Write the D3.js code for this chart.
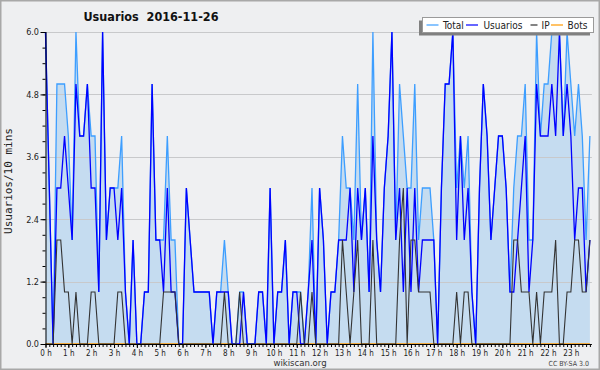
<!DOCTYPE html>
<html><head><meta charset="utf-8">
<script src="https://cdn.jsdelivr.net/npm/d3@7"></script>
<style>body{margin:0;background:#fff}svg{display:block}</style>
</head><body><svg id="c" width="600" height="370"></svg>
<script>
const titleText = "Usuarios  2016-11-26";
const yLabel = "Usuarios/10 mins";
const hourLabels = ["0 h","1 h","2 h","3 h","4 h","5 h","6 h","7 h","8 h","9 h","10 h","11 h","12 h","13 h","14 h","15 h","16 h","17 h","18 h","19 h","20 h","21 h","22 h","23 h"];
const yTicks = [0, 1.2, 2.4, 3.6, 4.8, 6.0];
const seriesNames = ["Total","Usuarios","IP","Bots"];
const seriesColors = ["#3d9eff","#0000ff","#333333","#ff9900"];

const total = [
6,3,0,5,5,5,4,2,6,4, 4,5,4,4,1,6,2,3,3,3, 4,1,0,2,0,0,1,1,5,2,
2,2,4,2,2,0,0,3,2,1, 1,1,1,1,0,1,1,2,1,0, 0,1,1,0,0,0,1,1,0,3,
0,1,1,2,0,1,1,1,0,1, 3,0,3,2,0,1,1,2,4,3, 3,2,5,2,3,1,6,2,1,3,
4,6,2,5,4,3,3,5,2,3, 3,3,2,0,3,5,5,6,3,4, 3,4,1,0,3,5,4,2,3,4,
4,3,1,3,4,4,5,2,2,6, 4,5,5,6,6,6,4,6,5,4, 5,4,2,4];
const usuarios = [
6,3,0,3,3,4,3,2,5,4, 4,5,3,3,1,6,2,3,3,2, 3,1,0,2,0,0,1,1,5,2,
2,1,3,1,1,0,0,3,2,1, 1,1,1,1,0,1,1,1,1,0, 0,0,1,0,0,0,1,1,0,3,
0,1,1,2,0,1,1,0,0,1, 2,0,3,2,0,1,1,2,2,2, 3,1,3,2,3,1,4,2,1,3,
4,6,2,3,1,3,1,3,1,2, 2,2,2,0,3,5,5,6,2,4, 2,3,1,0,3,5,4,2,3,4,
4,3,1,1,2,3,4,1,2,5, 4,4,4,5,4,6,4,5,4,2, 3,3,1,2];
const ip = [
0,0,0,2,2,1,1,0,1,0, 0,0,1,1,0,0,0,0,0,1, 1,0,0,0,0,0,0,0,0,0,
0,1,1,1,1,0,0,0,0,0, 0,0,0,0,0,0,0,1,0,0, 0,1,0,0,0,0,0,0,0,0,
0,0,0,0,0,0,0,1,0,0, 1,0,0,0,0,0,0,0,2,1, 0,1,2,0,0,0,2,0,0,0,
0,0,0,2,3,0,2,2,1,1, 1,1,0,0,0,0,0,0,1,0, 1,1,0,0,0,0,0,0,0,0,
0,0,0,2,2,1,1,1,0,1, 0,1,1,1,2,0,0,1,1,2, 2,1,1,2];
const bots = [
0,0,0,0,0,0,0,0,0,0, 0,0,0,0,0,0,0,0,0,0, 0,0,0,0,0,0,0,0,0,0,
0,0,0,0,0,0,0,0,0,0, 0,0,0,0,0,0,0,0,0,0, 0,0,0,0,0,0,0,0,0,0,
0,0,0,0,0,0,0,0,0,0, 0,0,0,0,0,0,0,0,0,0, 0,0,0,0,0,0,0,0,0,0,
0,0,0,0,0,0,0,0,0,0, 0,0,0,0,0,0,0,0,0,0, 0,0,0,0,0,0,0,0,0,0,
0,0,0,0,0,0,0,0,0,0, 0,0,0,0,0,0,0,0,0,0, 0,0,0,0];

const FONT = "'DejaVu Sans Condensed','DejaVu Sans',sans-serif";
const svg = d3.select("#c");
const L = 45.5, R = 589.9, T = 32, B = 344;
const x = d3.scaleLinear().domain([0, total.length - 1]).range([L, R]);
const y = d3.scaleLinear().domain([0, 6]).range([B, T]);

svg.append("rect").attr("x",0).attr("y",0).attr("width",600).attr("height",370).attr("fill","#eeeff1");
svg.append("rect").attr("x",0.75).attr("y",0.75).attr("width",598.5).attr("height",368.5)
  .attr("fill","none").attr("stroke","#a8a8a8").attr("stroke-width",1.5);
svg.append("rect").attr("x",L).attr("y",T).attr("width",R+2-L).attr("height",B-T).attr("fill","#eff0f2");

svg.append("path").datum(total)
  .attr("d", d3.area().x((d,i)=>x(i)).y0(y(0)).y1(d=>y(d)))
  .attr("fill","#c5dcf0");

svg.append("g").selectAll("line").data(yTicks.filter(v=>v>0)).join("line")
  .attr("x1",L).attr("x2",R+2).attr("y1",d=>Math.round(y(d))+0.5).attr("y2",d=>Math.round(y(d))+0.5)
  .attr("stroke","#c8c9cb").attr("stroke-width",1);

const line = d3.line().x((d,i)=>x(i)).y(d=>y(d));
const series = [total, usuarios, ip, bots];
[bots, total, usuarios, ip].forEach(s => {
  const k = series.indexOf(s);
  svg.append("path").datum(s).attr("d", line).attr("fill","none")
    .attr("stroke", seriesColors[k]).attr("stroke-width", k===2 ? 1.1 : 1.3)
    .attr("stroke-linejoin","miter");
});

const yMinor = d3.range(0, 6.0001, 0.3);
const gy = svg.append("g").attr("transform",`translate(${L},0)`);
gy.call(d3.axisLeft(y).tickValues(yMinor).tickSize(3).tickFormat(""));
gy.call(g=>g.selectAll(".domain").remove());
const gy2 = svg.append("g").attr("transform",`translate(${L},0)`);
gy2.call(d3.axisLeft(y).tickValues(yTicks).tickSize(5).tickPadding(1.5).tickFormat(d3.format(".1f")));
gy2.selectAll("text").attr("font-family",FONT).attr("font-size",9).attr("fill","#222");
gy2.select(".domain").attr("d",`M0.5,${T}V${B}`).attr("stroke","#000");
gy.selectAll("line").attr("stroke","#000");
gy2.selectAll("line").attr("stroke","#000");

const gx = svg.append("g").attr("transform",`translate(0,${B})`);
gx.call(d3.axisBottom(x).tickValues(d3.range(0,total.length)).tickSize(3).tickFormat(""));
gx.select(".domain").remove();
const gx2 = svg.append("g").attr("transform",`translate(0,${B})`);
gx2.call(d3.axisBottom(x).tickValues(hourLabels.map((h,i)=>i*6)).tickSize(4).tickPadding(2.5)
  .tickFormat((d,i)=>hourLabels[i]));
gx2.selectAll("text").attr("font-family",FONT).attr("font-size",8).attr("fill","#222");
gx2.select(".domain").attr("d",`M${L},0.5H${R+2}`).attr("stroke","#000");
gx.selectAll("line").attr("stroke","#000");
gx2.selectAll("line").attr("stroke","#000");

svg.append("text").attr("x",151).attr("y",21).attr("text-anchor","middle")
  .attr("font-family",FONT).attr("font-weight","bold").attr("font-size",12.5).attr("fill","#111")
  .style("white-space","pre").text(titleText);

svg.append("text").attr("transform","translate(12,181) rotate(-90)").attr("text-anchor","middle")
  .attr("font-family","'DejaVu Sans Mono',monospace").attr("font-size",11).attr("fill","#222")
  .text(yLabel);

svg.append("text").attr("x",300).attr("y",366).attr("text-anchor","middle")
  .attr("font-family",FONT).attr("font-size",9.5).attr("fill","#333").text("wikiscan.org");
svg.append("text").attr("x",589).attr("y",366).attr("text-anchor","end")
  .attr("font-family",FONT).attr("font-size",7).attr("fill","#444").text("CC BY-SA 3.0");

const lg = svg.append("g");
lg.append("rect").attr("x",419).attr("y",20.5).attr("width",171).attr("height",15).attr("fill","#808080");
lg.append("rect").attr("x",422.5).attr("y",17.5).attr("width",171).attr("height",15)
  .attr("fill","#fff").attr("stroke","#9a9a9a").attr("stroke-width",1);
const legX = [426.5, 466, 530.5, 551];
const txtX = [443, 483.5, 541.5, 567.5];
seriesNames.forEach((n,i)=>{
  lg.append("line").attr("x1",legX[i]).attr("x2",legX[i]+(i===2?7:12)).attr("y1",25).attr("y2",25)
    .attr("stroke",seriesColors[i]).attr("stroke-width",1.2);
  lg.append("text").attr("x",txtX[i]).attr("y",28.8).attr("font-family",FONT).attr("font-size",10)
    .attr("fill","#222").text(n);
});
</script></body></html>
